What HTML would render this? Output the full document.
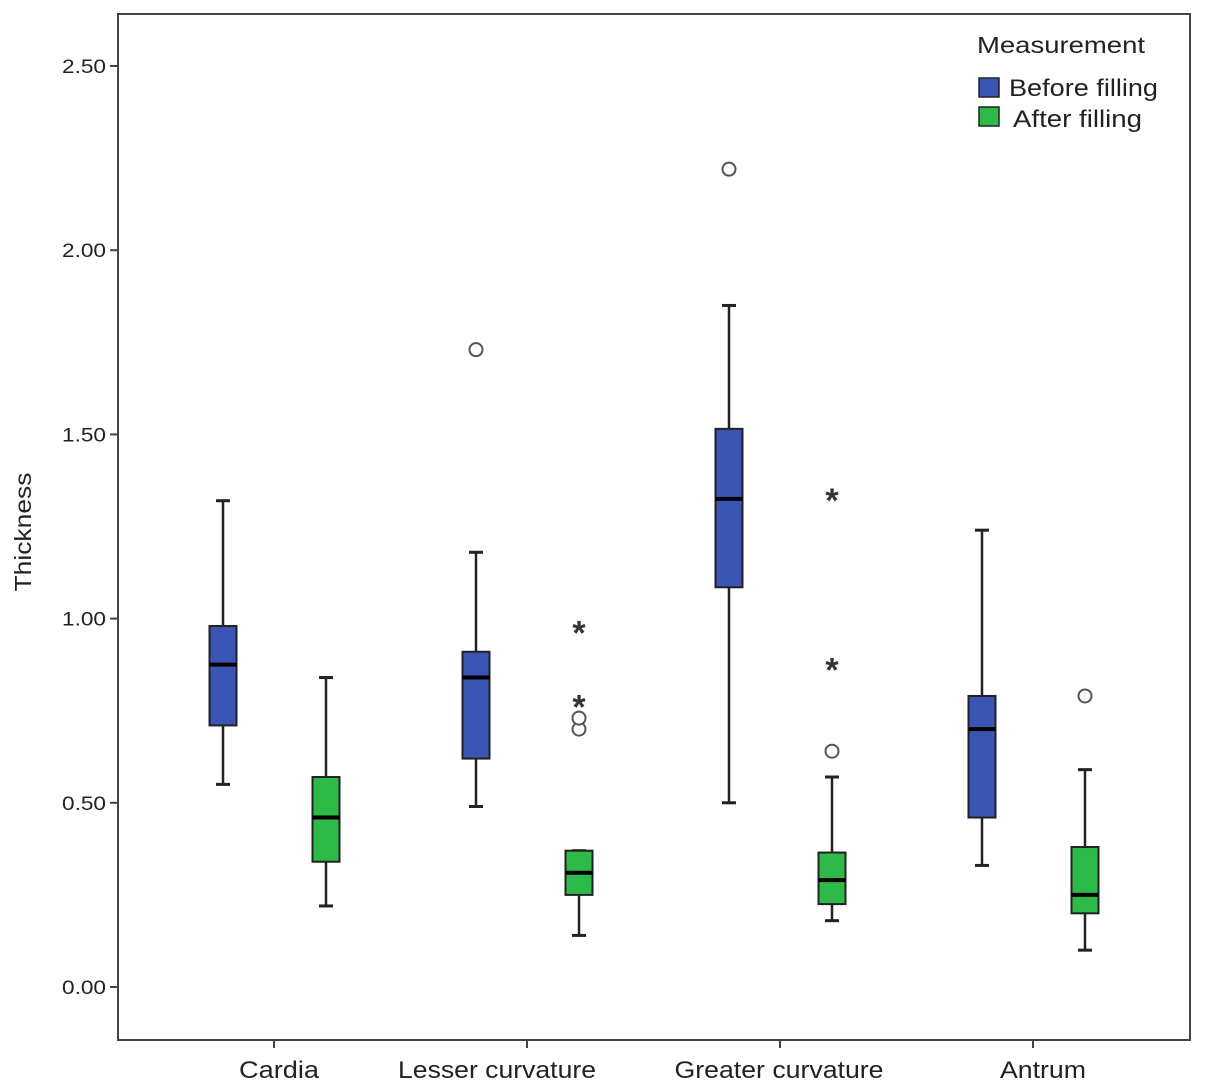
<!DOCTYPE html>
<html><head><meta charset="utf-8"><style>
body{margin:0;background:#fff}
svg{display:block;font-family:"Liberation Sans",sans-serif}
</style></head><body>
<svg id="c" width="1205" height="1091">
<rect x="0" y="0" width="1205" height="1091" fill="#fff"/>
<rect x="118" y="14" width="1072" height="1026" fill="none" stroke="#444" stroke-width="2"/>
<text x="31" y="532" font-size="23" fill="#222" text-anchor="middle" textLength="119" lengthAdjust="spacingAndGlyphs" transform="rotate(-90 31 532)">Thickness</text>
<g>
<text x="977" y="53" font-size="23" fill="#222" textLength="168" lengthAdjust="spacingAndGlyphs">Measurement</text>
<rect x="979" y="78" width="20" height="19" fill="#3a55b4" stroke="#222" stroke-width="1.5"/>
<text x="1009" y="96" font-size="24" fill="#222" textLength="149" lengthAdjust="spacingAndGlyphs">Before filling</text>
<rect x="979" y="107" width="20" height="19" fill="#2dba48" stroke="#222" stroke-width="1.5"/>
<text x="1013" y="127" font-size="24" fill="#222" textLength="129" lengthAdjust="spacingAndGlyphs">After filling</text>
</g>
<g id="marks"></g>
</svg>
<script>
const categories=["Cardia","Lesser curvature","Greater curvature","Antrum"];
const yTicks=[0,0.5,1,1.5,2,2.5];
const yTickLabels=["0.00","0.50","1.00","1.50","2.00","2.50"];
// [upper whisker, q3, median, q1, lower whisker]
const beforeStats=[[1.32,0.98,0.875,0.71,0.55],[1.18,0.91,0.84,0.62,0.49],[1.85,1.515,1.325,1.085,0.50],[1.24,0.79,0.70,0.46,0.33]];
const afterStats=[[0.84,0.57,0.46,0.34,0.22],[0.37,0.37,0.31,0.25,0.14],[0.57,0.365,0.29,0.225,0.18],[0.59,0.38,0.25,0.20,0.10]];
const beforeOutliers=[[],[1.73],[2.22],[]];
const afterOutliers=[[],[0.70,0.73],[0.64],[0.79]];
const beforeExtremes=[[],[],[],[]];
const afterExtremes=[[],[0.97,0.77],[1.33,0.87],[]];
const labelShift=[5,-30,-1,10];
const labelWidth=[80,198,209,86];
const NS="http://www.w3.org/2000/svg";
const g=document.getElementById('marks');
function y(v){return 987-v*368.4;}
function x(i){return 274+i*253;}
function mk(tag,attrs,parent){const e=document.createElementNS(NS,tag);for(const k in attrs)e.setAttribute(k,attrs[k]);(parent||g).appendChild(e);return e;}
yTicks.forEach((v,i)=>{
  const t=mk('line',{x1:110,x2:118,y1:y(v),y2:y(v),stroke:'#444','stroke-width':2});
  
  
  const l=mk('text',{x:106,y:y(v)+7,'font-size':19,fill:'#222','text-anchor':'end',textLength:44,lengthAdjust:'spacingAndGlyphs'});
  l.textContent=yTickLabels[i];
  
  
});
categories.forEach((c,i)=>{
  const t=mk('line',{x1:x(i),x2:x(i),y1:1040,y2:1048,stroke:'#444','stroke-width':2});
  
  
  const l=mk('text',{x:x(i)+labelShift[i],y:1078,'font-size':24,fill:'#222','text-anchor':'middle',textLength:labelWidth[i],lengthAdjust:'spacingAndGlyphs'});
  l.textContent=c;
  
  
});
function box(cx,s,color,name){
  const grp=mk('g',{});
  
  
  mk('line',{x1:cx,x2:cx,y1:y(s[0]),y2:y(s[4]),stroke:'#222','stroke-width':2.5},grp);
  mk('line',{x1:cx-7,x2:cx+7,y1:y(s[0]),y2:y(s[0]),stroke:'#222','stroke-width':3},grp);
  mk('line',{x1:cx-7,x2:cx+7,y1:y(s[4]),y2:y(s[4]),stroke:'#222','stroke-width':3},grp);
  mk('rect',{x:cx-13.5,y:y(s[1]),width:27,height:y(s[3])-y(s[1]),fill:color,stroke:'#222','stroke-width':2},grp);
  mk('line',{x1:cx-13.5,x2:cx+13.5,y1:y(s[2]),y2:y(s[2]),stroke:'#000','stroke-width':4},grp);
}
function outl(cx,vals){vals.forEach(v=>{
  const c=mk('circle',{cx:cx,cy:y(v),r:6.5,fill:'#fff',stroke:'#555','stroke-width':2});
  
  
});}
function extr(cx,vals){vals.forEach(v=>{
  const t=mk('text',{x:cx,y:y(v)+15,'font-size':34,'font-weight':'bold',fill:'#333','text-anchor':'middle'});
  t.textContent='*';
  
  
});}
categories.forEach((c,i)=>{
  const bx=x(i)-51, ax=x(i)+52;
  box(bx,beforeStats[i],'#3a55b4','box-before-'+i);
  box(ax,afterStats[i],'#2dba48','box-after-'+i);
  outl(bx,beforeOutliers[i]);outl(ax,afterOutliers[i]);
  extr(bx,beforeExtremes[i]);extr(ax,afterExtremes[i]);
});
</script>
</body></html>
